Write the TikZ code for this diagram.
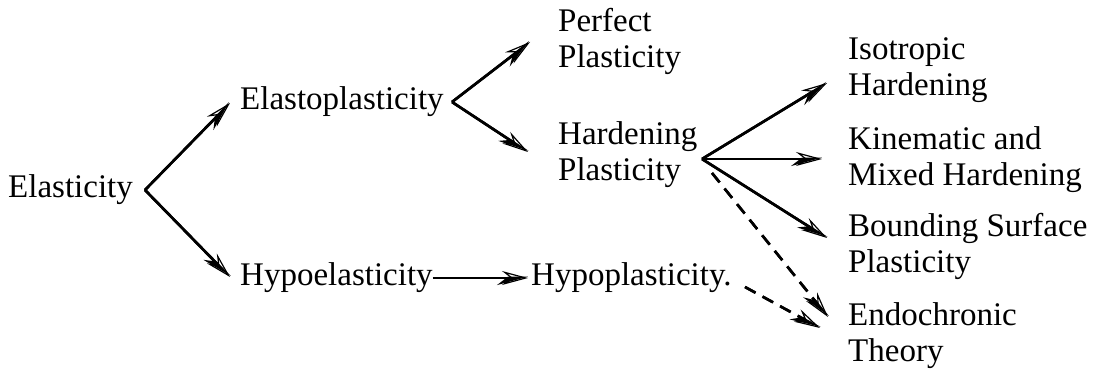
\documentclass[tikz,border=0pt]{standalone}
\usepackage{fontspec}
\setmainfont{Liberation Serif}
\usetikzlibrary{arrows.meta}
\tikzset{
    lab/.style={
        anchor=west, inner sep=0pt, align=left,
        font=\rmfamily\fontsize{33}{36}\selectfont
    },
    link/.style={
        line width=2.6pt,
        -{Stealth[open,length=26pt,width=14pt,inset=9pt,line width=1.2pt]},
        postaction={draw,-{Stealth[harpoon,swap,length=26pt,width=14pt,inset=9pt]}}
    },
    dlink/.style={link, dash pattern=on 12pt off 8pt}
}

\begin{document}
\begin{tikzpicture}[x=1pt,y=-1pt,line cap=butt,line join=miter]

\useasboundingbox (0,0) rectangle (1095,371);

% left column
\node[lab] (ela) at (8,190) {Elasticity};
\node[lab] (elp) at (240,102) {Elastoplasticity};
\node[lab] (hel) at (240,278) {Hypoelasticity};

% middle column
\node[lab] (per) at (558,41) {Perfect\\Plasticity};
\node[lab] (hrd) at (558,155) {Hardening\\Plasticity};
\node[lab] (hyp) at (531,278) {Hypoplasticity.};

% right column
\node[lab] (iso) at (848,70) {Isotropic\\Hardening};
\node[lab] (kin) at (848,160) {Kinematic and\\Mixed Hardening};
\node[lab] (bnd) at (848,246) {Bounding Surface\\Plasticity};
\node[lab] (end) at (848,336) {Endochronic\\Theory};

% branching points
\coordinate (ela-x) at (145,190);
\coordinate (elp-x) at (452,102);
\coordinate (hrd-x) at (702,159);
\coordinate (hrd-d) at (712,173);
\coordinate (hyp-d) at (745,287);

% solid arrows
\draw[link] (ela-x) -- (230,103);
\draw[link] (ela-x) -- (230,277);
\draw[link] (elp-x) -- (530,42);
\draw[link] (elp-x) -- (528,152);
\draw[link] (hel.east) -- (528,278);
\draw[link] (hrd-x) -- (827,83);
\draw[link] (hrd-x) -- (822,159);
\draw[link] (hrd-x) -- (827,238);

% dashed arrows into endochronic theory
\draw[dlink] (hrd-d) -- (828,317);
\draw[dlink] (hyp-d) -- (820,328);

\end{tikzpicture}
\end{document}
